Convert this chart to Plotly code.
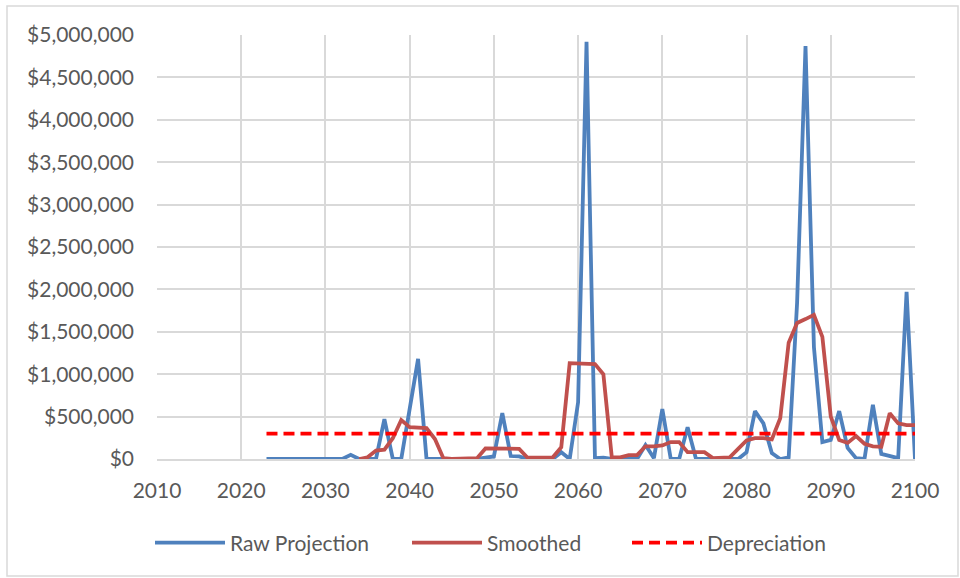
import plotly.graph_objects as go

raw_years = list(range(2023, 2101))
raw_values = [
    0, 0, 0, 0, 0, 0, 0, 0,            # 2023-2030
    10000, 0, 50000, 0, 0, 0, 470000,  # 2031-2037
    0, 0, 590000, 1180000, 0,          # 2038-2042
    0, 0, 0, 0, 0, 0, 15000, 30000,    # 2043-2050
    540000, 35000, 30000, 0, 0, 0, 0,  # 2051-2057
    80000, 0, 670000, 4920000, 10000,  # 2058-2062
    15000, 0, 0, 0, 0, 165000, 10000,  # 2063-2069
    590000, 0, 0, 375000, 0, 0, 0,     # 2070-2076
    0, 0, 0, 80000, 565000, 420000,    # 2077-2082
    70000, 0, 20000, 1840000, 4870000, # 2083-2087
    1320000, 200000, 225000, 565000,   # 2088-2091
    130000, 10000, 0, 640000, 60000,   # 2092-2096
    40000, 10000, 1970000, 0,          # 2097-2100
]

smooth_years = list(range(2034, 2101))
smooth_values = [
    0, 20000, 100000, 110000, 245000, 460000, 375000, 365000,  # 2034-2041
    365000, 235000, 10000, 0, 0, 0, 10000, 125000,             # 2042-2049
    125000, 125000, 125000, 120000, 15000, 10000, 15000,       # 2050-2056
    20000, 140000, 1130000, 1130000, 1125000, 1120000,         # 2057-2062
    1000000, 20000, 20000, 45000, 45000, 150000, 150000,       # 2063-2069
    160000, 200000, 200000, 80000, 80000, 80000, 10000,        # 2070-2076
    10000, 20000, 120000, 220000, 245000, 245000, 230000,      # 2077-2083
    480000, 1370000, 1605000, 1650000, 1700000, 1440000,       # 2084-2089
    500000, 225000, 190000, 270000, 180000, 150000, 145000,    # 2090-2096
    540000, 420000, 400000, 400000,                            # 2097-2100
]

dep_years = [2023, 2100]
dep_values = [300000, 300000]

x_ticks = [2010, 2020, 2030, 2040, 2050, 2060, 2070, 2080, 2090, 2100]

FONT = "Lato"
TXT = "#595959"
GRID = "#d9d9d9"
FS = 21

fig = go.Figure()
fig.add_trace(go.Scatter(x=raw_years, y=raw_values, mode="lines", name="Raw Projection",
                         line=dict(color="#4f81bd", width=3.8), legend="legend"))
fig.add_trace(go.Scatter(x=smooth_years, y=smooth_values, mode="lines", name="Smoothed",
                         line=dict(color="#c0504d", width=3.8), legend="legend2"))
fig.add_trace(go.Scatter(x=dep_years, y=dep_values, mode="lines", name="Depreciation",
                         line=dict(color="#ff0000", width=3.8, dash="11px,6px"), legend="legend3"))

def px_x(p):
    return (p - 157) / 758

leg_common = dict(orientation="h", y=-0.198, yanchor="middle", xanchor="left", itemwidth=70,
                  font=dict(family=FONT, size=FS, color=TXT), bgcolor="rgba(0,0,0,0)")

fig.update_layout(
    width=960, height=578,
    margin=dict(l=157, r=45, t=35, b=119),
    paper_bgcolor="white", plot_bgcolor="white",
    font=dict(family=FONT, size=FS, color=TXT),
    showlegend=True,
    legend=dict(x=px_x(150), **leg_common),
    legend2=dict(x=px_x(407), **leg_common),
    legend3=dict(x=px_x(627), **leg_common),
    xaxis=dict(range=[2010, 2100], tickvals=x_ticks, showgrid=True, gridcolor=GRID,
               gridwidth=1.5, zeroline=False, showline=True, linecolor=GRID, linewidth=1.5,
               ticks="", ticklabelstandoff=12, tickfont=dict(family=FONT, size=FS, color=TXT)),
    yaxis=dict(range=[0, 5000000], dtick=500000, tickformat="$,.0f", showgrid=True,
               gridcolor=GRID, gridwidth=1.5, zeroline=False, showline=False,
               ticks="", ticklabelstandoff=22, tickfont=dict(family=FONT, size=FS, color=TXT)),
    shapes=[dict(type="rect", xref="paper", yref="paper",
                 x0=(7 - 157) / 758, x1=(958 - 157) / 758,
                 y0=(459 - 576) / 424, y1=(459 - 6) / 424,
                 line=dict(color="#d9d9d9", width=1.5), fillcolor="rgba(0,0,0,0)",
                 layer="below")],
)

fig.write_html("out.html")
